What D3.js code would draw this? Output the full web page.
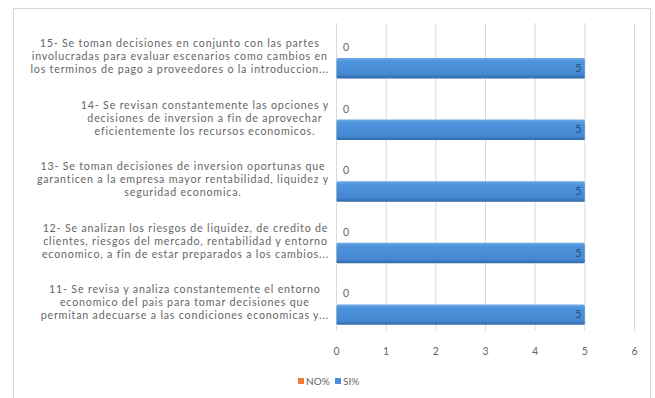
<!DOCTYPE html>
<html>
<head>
<meta charset="utf-8">
<script src="https://cdn.jsdelivr.net/npm/d3@7"></script>
<style>
  html, body { margin: 0; padding: 0; background: #ffffff; }
  svg { display: block; font-family: Lato, "Open Sans", sans-serif; }
</style>
</head>
<body>
<svg id="chart" width="655" height="398"></svg>
<script>
// Survey items (top to bottom), each split into the lines shown on the axis
const categories = ["15", "14", "13", "12", "11"];
const categoryLines = [
  ["15- Se toman decisiones en conjunto con las partes",
   "involucradas para evaluar escenarios como cambios en",
   "los terminos de pago a proveedores o la introduccion..."],
  ["14- Se revisan constantemente las opciones y",
   "decisiones de inversion a fin de aprovechar",
   "eficientemente los recursos economicos."],
  ["13- Se toman decisiones de inversion oportunas que",
   "garanticen a la empresa mayor rentabilidad, liquidez y",
   "seguridad economica."],
  ["12- Se analizan los riesgos de liquidez, de credito de",
   "clientes, riesgos del mercado, rentabilidad y entorno",
   "economico, a fin de estar preparados a los cambios..."],
  ["11- Se revisa y analiza constantemente el entorno",
   "economico del pais para tomar decisiones que",
   "permitan adecuarse a las condiciones economicas y..."]
];
const seriesNames = ["NO%", "SI%"];
const noValues = [0, 0, 0, 0, 0];
const siValues = [5, 5, 5, 5, 5];
const xTicks = [0, 1, 2, 3, 4, 5, 6];

const seriesColors = { "NO%": "#ED7D31", "SI%": "#4A8FD8" };
const textColor = "#666666";
const gridColor = "#d9d9d9";

const svg = d3.select("#chart");

// Bevelled fill for the bars
const defs = svg.append("defs");
const grad = defs.append("linearGradient")
  .attr("id", "barBlue").attr("x1", 0).attr("y1", 0).attr("x2", 0).attr("y2", 1);
[["0%", "#6aa9e6"], ["18%", "#4d93dc"], ["80%", "#4688d2"], ["100%", "#2f68a8"]]
  .forEach(([o, c]) => grad.append("stop").attr("offset", o).attr("stop-color", c));

// Chart frame
svg.append("rect")
  .attr("x", 13.5).attr("y", 8.5).attr("width", 637).attr("height", 400)
  .attr("fill", "#ffffff").attr("stroke", gridColor).attr("stroke-width", 1);

const plotTop = 23, plotBottom = 331;
const x = d3.scaleLinear().domain([0, 6]).range([336, 634]);
const y = d3.scaleBand().domain(categories).range([plotTop, plotBottom]);
const ySub = d3.scaleBand().domain(seriesNames)
  .range([y.bandwidth() * 0.23, y.bandwidth() * 0.9]).paddingInner(0.02);

// Vertical gridlines
svg.append("g").selectAll("line").data(xTicks).join("line")
  .attr("x1", d => x(d) + 0.5).attr("x2", d => x(d) + 0.5)
  .attr("y1", plotTop).attr("y2", plotBottom)
  .attr("stroke", gridColor).attr("stroke-width", 1);

// Value axis
const xAxis = svg.append("g")
  .attr("transform", `translate(0,${plotBottom})`)
  .call(d3.axisBottom(x).tickValues(xTicks).tickFormat(d3.format("d")).tickSize(0).tickPadding(17));
xAxis.select(".domain").remove();
xAxis.selectAll("text").attr("fill", textColor).attr("font-size", 10.5)
  .attr("font-family", "Lato, 'Open Sans', sans-serif");

// Bars
const rows = categories.map((c, i) => ({ cat: c, no: noValues[i], si: siValues[i] }));
const groups = svg.append("g").selectAll("g").data(rows).join("g")
  .attr("transform", d => `translate(0,${y(d.cat)})`);

groups.append("rect")
  .attr("x", x(0)).attr("y", ySub("NO%"))
  .attr("width", d => x(d.no) - x(0)).attr("height", ySub.bandwidth())
  .attr("fill", seriesColors["NO%"]);

groups.append("rect")
  .attr("x", x(0) + 0.5).attr("y", ySub("SI%"))
  .attr("width", d => x(d.si) - x(0)).attr("height", ySub.bandwidth())
  .attr("rx", 1.5)
  .attr("fill", "url(#barBlue)");

// Value labels
groups.append("text")
  .attr("x", d => x(d.no) + 7).attr("y", ySub("NO%") + ySub.bandwidth() / 2)
  .attr("dy", "0.35em").attr("font-size", 10.5).attr("fill", textColor)
  .text(d => d.no);

groups.append("text")
  .attr("x", d => x(d.si) - 6).attr("y", ySub("SI%") + ySub.bandwidth() / 2)
  .attr("dy", "0.35em").attr("text-anchor", "middle")
  .attr("font-size", 10.5).attr("fill", "#2a4e7a")
  .text(d => d.si);

// Category labels: centred lines inside a block right-aligned to the axis
const labelRight = 329, lineH = 13;
categories.forEach((c, i) => {
  const lines = categoryLines[i];
  const g = svg.append("g");
  const texts = g.selectAll("text").data(lines).join("text")
    .attr("font-size", 10.7).attr("letter-spacing", 0.8).attr("fill", textColor)
    .attr("text-anchor", "middle")
    .text(d => d);
  const maxW = d3.max(texts.nodes(), n => n.getComputedTextLength());
  const cx = labelRight - maxW / 2;
  const cy = y(c) + y.bandwidth() / 2 + 2.5;
  texts.attr("x", cx)
    .attr("y", (d, j) => cy + (j - (lines.length - 1) / 2) * lineH)
    .attr("dy", "0.35em");
});

// Legend
const legend = svg.append("g").attr("transform", "translate(0,381)");
const legendItems = [{ name: "NO%", x: 298 }, { name: "SI%", x: 335 }];
legendItems.forEach(it => {
  legend.append("rect").attr("x", it.x).attr("y", -3).attr("width", 6).attr("height", 6)
    .attr("fill", seriesColors[it.name]);
  legend.append("text").attr("x", it.x + 8).attr("y", 0).attr("dy", "0.35em")
    .attr("font-size", 10).attr("fill", textColor).text(it.name);
});
</script>
</body>
</html>
